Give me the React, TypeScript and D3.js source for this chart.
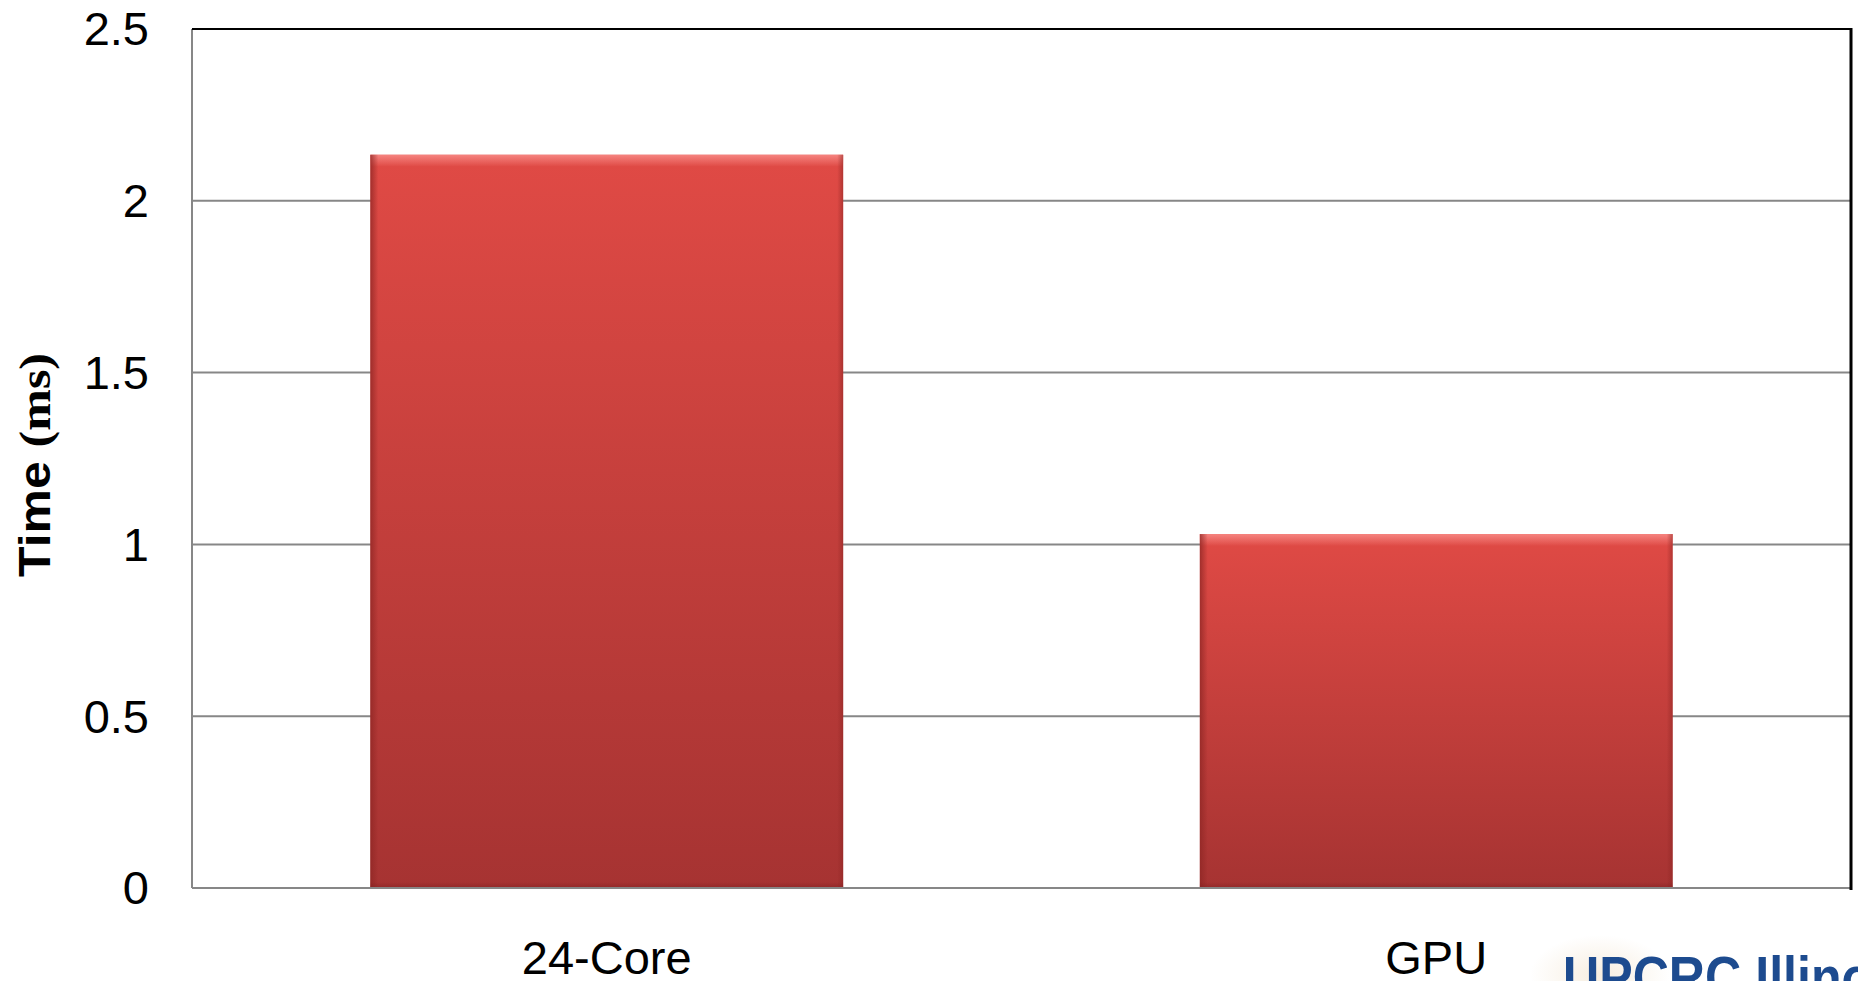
import React from "react";
import * as d3 from "d3";

const categories = ["24-Core", "GPU"];
const timesMs = [2.134, 1.03];
const yTicks = [0, 0.5, 1, 1.5, 2, 2.5];
const yTickLabels = ["0", "0.5", "1", "1.5", "2", "2.5"];

const W = 1858;
const H = 981;
const plot = { left: 192, right: 1851, top: 29, bottom: 888 };

export default function App() {
  const x = d3
    .scaleBand<string>()
    .domain(categories)
    .range([plot.left, plot.right])
    .paddingInner(0.43)
    .paddingOuter(0.215);
  const y = d3.scaleLinear().domain([0, 2.5]).range([plot.bottom, plot.top]);
  const bw = x.bandwidth();

  return (
    <svg
      width={W}
      height={H}
      style={{ position: "absolute", left: 0, top: 0, display: "block", background: "#fff" }}
    >
      <defs>
        <linearGradient id="barGrad" x1="0" y1="0" x2="0" y2="1">
          <stop offset="0" stopColor="#e04a45" />
          <stop offset="1" stopColor="#a63332" />
        </linearGradient>
        <linearGradient id="topHi" x1="0" y1="0" x2="0" y2="1">
          <stop offset="0" stopColor="#f88a86" stopOpacity="0.9" />
          <stop offset="1" stopColor="#f88a86" stopOpacity="0" />
        </linearGradient>
        <linearGradient id="leftSh" x1="0" y1="0" x2="1" y2="0">
          <stop offset="0" stopColor="#8e2624" stopOpacity="0.75" />
          <stop offset="1" stopColor="#8e2624" stopOpacity="0" />
        </linearGradient>
        <linearGradient id="rightSh" x1="1" y1="0" x2="0" y2="0">
          <stop offset="0" stopColor="#8e2624" stopOpacity="0.55" />
          <stop offset="1" stopColor="#8e2624" stopOpacity="0" />
        </linearGradient>
        <linearGradient id="botSh" x1="0" y1="1" x2="0" y2="0">
          <stop offset="0" stopColor="#7e2020" stopOpacity="0.5" />
          <stop offset="1" stopColor="#7e2020" stopOpacity="0" />
        </linearGradient>
        <radialGradient id="swoosh" cx="0.5" cy="0.5" r="0.5">
          <stop offset="0" stopColor="#f3e6d2" stopOpacity="0.7" />
          <stop offset="1" stopColor="#f3e6d2" stopOpacity="0" />
        </radialGradient>
      </defs>

      {/* gridlines */}
      {yTicks
        .filter((t) => t > 0 && t < 2.5)
        .map((t) => (
          <line
            key={"g" + t}
            x1={plot.left}
            x2={plot.right}
            y1={y(t)}
            y2={y(t)}
            stroke="#878787"
            strokeWidth={2}
          />
        ))}

      {/* bars */}
      {categories.map((c, i) => {
        const bx = x(c)!;
        const by = y(timesMs[i]);
        const bh = y(0) - by;
        return (
          <g key={c}>
            <rect x={bx} y={by} width={bw} height={bh} fill="url(#barGrad)" />
            <rect x={bx} y={by} width={bw} height={12} fill="url(#topHi)" />
            <rect x={bx} y={by} width={8} height={bh} fill="url(#leftSh)" />
            <rect x={bx + bw - 6} y={by} width={6} height={bh} fill="url(#rightSh)" />
            <rect x={bx} y={y(0) - 6} width={bw} height={6} fill="url(#botSh)" />
          </g>
        );
      })}

      {/* frame */}
      <line x1={plot.left} x2={plot.left} y1={plot.top} y2={plot.bottom} stroke="#878787" strokeWidth={2} />
      <line x1={plot.left} x2={plot.right} y1={plot.bottom} y2={plot.bottom} stroke="#878787" strokeWidth={2} />
      <line x1={plot.left} x2={plot.right + 1} y1={plot.top} y2={plot.top} stroke="#000" strokeWidth={2} />
      <line x1={plot.right} x2={plot.right} y1={plot.top - 1} y2={plot.bottom + 2} stroke="#000" strokeWidth={3} />

      {/* y tick labels */}
      {yTicks.map((t, i) => (
        <text
          key={"t" + t}
          x={149}
          y={y(t)}
          dy="0.35em"
          textAnchor="end"
          fontFamily="'Liberation Sans', Arial, sans-serif"
          fontSize={47}
          fill="#000"
        >
          {yTickLabels[i]}
        </text>
      ))}

      {/* x labels */}
      {categories.map((c) => (
        <text
          key={"x" + c}
          x={x(c)! + bw / 2}
          y={974}
          textAnchor="middle"
          fontFamily="'Liberation Sans', Arial, sans-serif"
          fontSize={47}
          fill="#000"
        >
          {c}
        </text>
      ))}

      {/* y title */}
      <text
        transform={`translate(50, 465) rotate(-90)`}
        textAnchor="middle"
        fontSize={45}
        fontWeight="bold"
        fill="#000"
        textLength={224}
        lengthAdjust="spacingAndGlyphs"
      >
        <tspan fontFamily="'Liberation Sans', Arial, sans-serif">Time </tspan>
        <tspan fontFamily="'Liberation Serif', 'Times New Roman', serif">(ms)</tspan>
      </text>

      {/* partial logo */}
      <ellipse cx={1600} cy={975} rx={70} ry={40} fill="url(#swoosh)" />
      <text
        transform="translate(1563, 997) scale(0.88, 1)"
        fontFamily="'Liberation Sans', Arial, sans-serif"
        fontWeight="bold"
        fontSize={57}
        fill="#1d4b8f"
      >
        UPCRC Illinois
      </text>
    </svg>
  );
}
